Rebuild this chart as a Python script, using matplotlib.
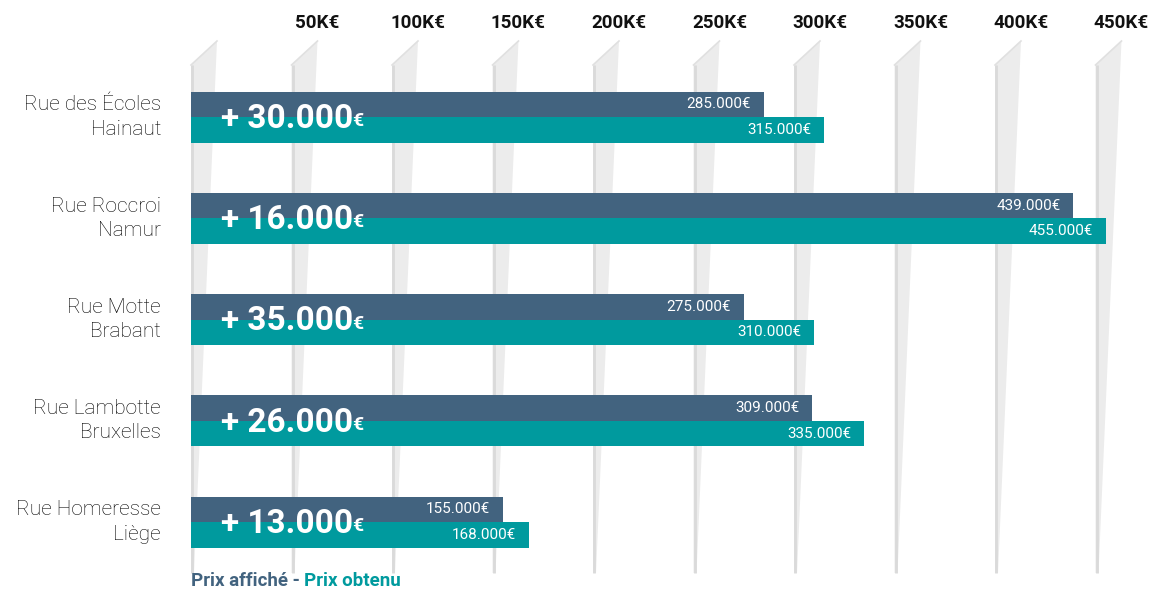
import numpy as np
import matplotlib.pyplot as plt
from matplotlib.patches import Polygon

# data
streets = ["Rue des Écoles", "Rue Roccroi", "Rue Motte", "Rue Lambotte", "Rue Homeresse"]
regions = ["Hainaut", "Namur", "Brabant", "Bruxelles", "Liège"]
prix_affiche = [285000, 439000, 275000, 309000, 155000]
prix_obtenu = [315000, 455000, 310000, 335000, 168000]
grid_vals = [0, 50000, 100000, 150000, 200000, 250000, 300000, 350000, 400000, 450000]
tick_labels = ["", "50K€", "100K€", "150K€", "200K€", "250K€", "300K€", "350K€", "400K€", "450K€"]

dark = "#42637f"
teal = "#009a9e"
font = "Roboto"

W, H = 1151, 589
fig = plt.figure(figsize=(W / 100, H / 100), dpi=100)
ax = fig.add_axes([0, 0, 1, 1])
ax.axis("off")

# pixel <-> data helpers (axes fills the whole figure)
x_zero = 191.0
s = 0.00201          # px per euro
row0 = 117.0
row_step = 101.25
ax.set_xlim(-x_zero / s, (W - x_zero) / s)
ax.set_ylim((H - row0) / row_step, -row0 / row_step)

def px_x(p):
    return p / s

def py(p):
    return (p - row0) / row_step

# slanted light-grey grid wedges
for g in grid_vals:
    poly = Polygon([(g, py(65)), (g + px_x(26), py(41)), (g + px_x(3), py(573)), (g, py(573))],
                   closed=True, facecolor="#ececec", edgecolor="none", zorder=1)
    ax.add_patch(poly)
    ax.plot([g + px_x(1), g + px_x(1)], [py(65), py(573)], color="#dadada", lw=2,
            solid_capstyle="butt", zorder=1.5)
    ax.plot([g, g + px_x(26)], [py(65), py(41)], color="#e0e0e0", lw=1.2, zorder=1.5)

for g, lab in zip(grid_vals, tick_labels):
    ax.text(g + px_x(26), py(23), lab, ha="center", va="center", fontsize=13.5,
            fontweight="bold", color="#111111", family=font)

y = np.arange(len(streets))
bh = 25.5 / row_step
ax.barh(y - bh / 2, prix_affiche, height=bh, color=dark, zorder=3)
ax.barh(y + bh / 2, prix_obtenu, height=bh, color=teal, zorder=3)

def fmt(v):
    return f"{v:,}".replace(",", ".") + "€"

for i in range(len(streets)):
    ax.text(prix_affiche[i] - px_x(13), i - bh / 2, fmt(prix_affiche[i]), ha="right",
            va="center", color="white", fontsize=11, family=font, zorder=4)
    ax.text(prix_obtenu[i] - px_x(13), i + bh / 2, fmt(prix_obtenu[i]), ha="right",
            va="center", color="white", fontsize=11, family=font, zorder=4)
    ax.text(-px_x(30), i, streets[i] + "\n" + regions[i], ha="right", va="center",
            multialignment="right", fontsize=15, fontweight="light", color="#000000",
            family=font, linespacing=1.35)
    diff = prix_obtenu[i] - prix_affiche[i]
    t = ax.text(px_x(30), i + py(128) - py(117), "+ " + f"{diff:,}".replace(",", "."),
                ha="left", va="baseline", color="white", fontsize=24, fontweight="bold",
                family=font, zorder=5)
    ax.annotate("€", xy=(1, 0), xycoords=t, xytext=(-1, 3.5), textcoords="offset points",
                ha="left", va="bottom", color="white", fontsize=14, fontweight="bold",
                family=font, zorder=5)

lt = ax.text(0, py(581), "Prix affiché - ", ha="left", va="center", color=dark,
             fontsize=13.5, fontweight="bold", family=font)
ax.annotate("Prix obtenu", xy=(1, 0), xycoords=lt, ha="left", va="bottom", color=teal,
            fontsize=13.5, fontweight="bold", family=font)

fig.savefig("out.png", dpi=100)
